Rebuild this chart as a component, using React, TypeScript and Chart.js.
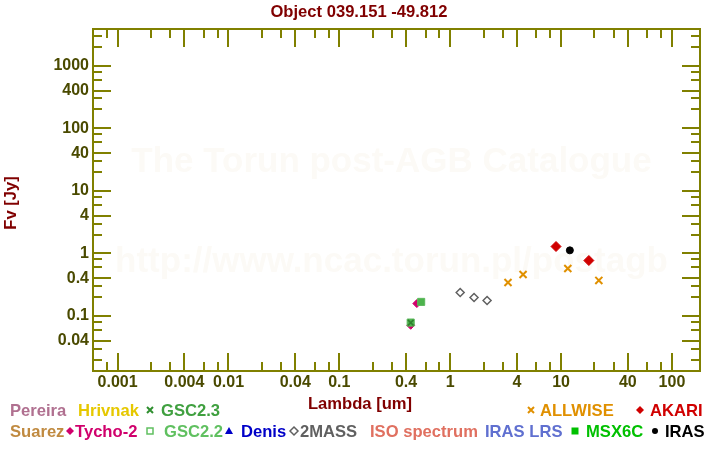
import React, { useEffect, useRef } from "react";
import { Chart, registerables } from "chart.js";

Chart.register(...registerables);

// ---------- data ----------
const titleText = "Object 039.151 -49.812";
const xTitle = "Lambda [um]";
const yTitle = "Fv [Jy]";
const watermark1 = "The Torun post-AGB Catalogue";
const watermark2 = "http://www.ncac.torun.pl/postagb";

const xTickLabels = ["0.001", "0.004", "0.01", "0.04", "0.1", "0.4", "1", "4", "10", "40", "100"];
const yTickLabels = ["0.04", "0.1", "0.4", "1", "4", "10", "40", "100", "400", "1000"];

const akariLambda = [9.0, 17.8];
const akariFlux = [1.29, 0.77];
const irasLambda = [12.0];
const irasFlux = [1.12];
const allwiseLambda = [3.32, 4.54, 11.5, 21.9];
const allwiseFlux = [0.343, 0.461, 0.575, 0.37];
const twomassLambda = [1.23, 1.64, 2.15];
const twomassFlux = [0.237, 0.197, 0.177];
const tychoLambda = [0.44, 0.5];
const tychoFlux = [0.071, 0.158];
const gsc22Lambda = [0.44, 0.547];
const gsc22Flux = [0.0785, 0.168];
const gsc23Lambda = [0.44];
const gsc23Flux = [0.078];

const legendRow1 = ["Pereira", "Hrivnak", "GSC2.3", "ALLWISE", "AKARI"];
const legendRow2 = ["Suarez", "Tycho-2", "GSC2.2", "Denis", "2MASS", "ISO spectrum", "IRAS LRS", "MSX6C", "IRAS"];

// ---------- layout / style ----------
const X_MIN = 0.000612;
const X_MAX = 179;
const Y_MIN = 0.0132;
const Y_MAX = 3866;
const OLIVE = "#808000";
const TICK_COLOR = "#4a4a00";
const DARKRED = "#800000";
const FONT = "Arial, 'Liberation Sans', sans-serif";
const TEXT_SIZE = 16.6;

type LegendStyle = { color: string; tx: number; marker?: string; mx?: number; mcolor?: string };
const legendStyle1: LegendStyle[] = [
  { color: "#b07090", tx: 10 },
  { color: "#e6c800", tx: 78 },
  { color: "#40a040", tx: 161, marker: "cross", mx: 150, mcolor: "#2f8f2f" },
  { color: "#e09000", tx: 540, marker: "cross", mx: 531 },
  { color: "#d00000", tx: 650, marker: "diamond", mx: 640 },
];
const legendStyle2: LegendStyle[] = [
  { color: "#c08a40", tx: 10 },
  { color: "#d0006c", tx: 75, marker: "diamond", mx: 70 },
  { color: "#60c060", tx: 164, marker: "opensquare", mx: 150 },
  { color: "#0000c8", tx: 241, marker: "triangle", mx: 229 },
  { color: "#606060", tx: 300, marker: "opendiamond", mx: 294 },
  { color: "#e07060", tx: 370 },
  { color: "#6070d0", tx: 485 },
  { color: "#00c000", tx: 586, marker: "square", mx: 575 },
  { color: "#000000", tx: 665, marker: "circle", mx: 655 },
];

function pts(xs: number[], ys: number[]) {
  return xs.map((x, i) => ({ x, y: ys[i] }));
}

function buildTicks(labels: string[], min: number, max: number) {
  const majors = labels.map((s) => parseFloat(s));
  const all: { value: number; major: boolean }[] = [];
  const lo = Math.floor(Math.log10(min));
  const hi = Math.ceil(Math.log10(max));
  for (let k = lo; k <= hi; k++) {
    for (const m of [1, 2, 3, 4, 6, 8]) {
      const v = parseFloat((m * Math.pow(10, k)).toPrecision(2));
      if (v < min || v > max) continue;
      all.push({ value: v, major: m === 1 || m === 4 });
    }
  }
  return { majors, all };
}

const xTicks = buildTicks(xTickLabels, X_MIN, X_MAX);
const yTicks = buildTicks(yTickLabels, Y_MIN, Y_MAX);

function drawMarker(ctx: CanvasRenderingContext2D, kind: string, x: number, y: number, color: string) {
  ctx.save();
  ctx.fillStyle = color;
  ctx.strokeStyle = color;
  ctx.lineWidth = 1.5;
  ctx.beginPath();
  if (kind === "cross") {
    ctx.lineWidth = 2;
    ctx.moveTo(x - 3, y - 3);
    ctx.lineTo(x + 3, y + 3);
    ctx.moveTo(x + 3, y - 3);
    ctx.lineTo(x - 3, y + 3);
    ctx.stroke();
  } else if (kind === "diamond") {
    ctx.moveTo(x, y - 4);
    ctx.lineTo(x + 4, y);
    ctx.lineTo(x, y + 4);
    ctx.lineTo(x - 4, y);
    ctx.closePath();
    ctx.fill();
  } else if (kind === "opendiamond") {
    ctx.moveTo(x, y - 4);
    ctx.lineTo(x + 4, y);
    ctx.lineTo(x, y + 4);
    ctx.lineTo(x - 4, y);
    ctx.closePath();
    ctx.stroke();
  } else if (kind === "opensquare") {
    ctx.rect(x - 3, y - 3, 6, 6);
    ctx.stroke();
  } else if (kind === "square") {
    ctx.rect(x - 3.5, y - 3.5, 7, 7);
    ctx.fill();
  } else if (kind === "triangle") {
    ctx.moveTo(x, y - 4);
    ctx.lineTo(x + 4, y + 3);
    ctx.lineTo(x - 4, y + 3);
    ctx.closePath();
    ctx.fill();
  } else if (kind === "circle") {
    ctx.arc(x, y, 3, 0, Math.PI * 2);
    ctx.fill();
  }
  ctx.restore();
}

const decorPlugin = {
  id: "decor",
  beforeDatasetsDraw(chart: any) {
    const { ctx, chartArea: a } = chart;
    ctx.save();
    ctx.fillStyle = "rgb(252,250,246)";
    ctx.font = `bold 35px ${FONT}`;
    ctx.textAlign = "center";
    ctx.textBaseline = "middle";
    const cx = (a.left + a.right) / 2 - 5;
    ctx.fillText(watermark1, cx, 162);
    ctx.fillText(watermark2, cx, 262);
    ctx.restore();
  },
  afterDraw(chart: any) {
    const { ctx, chartArea: a, scales } = chart;
    ctx.save();
    // frame
    ctx.strokeStyle = OLIVE;
    ctx.lineWidth = 2;
    ctx.strokeRect(a.left, a.top, a.right - a.left, a.bottom - a.top);
    ctx.beginPath();
    for (const t of xTicks.all) {
      const px = Math.round(scales.x.getPixelForValue(t.value));
      const L = t.major ? 18 : 9;
      ctx.moveTo(px, a.bottom);
      ctx.lineTo(px, a.bottom - L);
      ctx.moveTo(px, a.top);
      ctx.lineTo(px, a.top + L);
    }
    for (const t of yTicks.all) {
      const py = Math.round(scales.y.getPixelForValue(t.value));
      const L = t.major ? 18 : 9;
      ctx.moveTo(a.left, py);
      ctx.lineTo(a.left + L, py);
      ctx.moveTo(a.right, py);
      ctx.lineTo(a.right - L, py);
    }
    ctx.stroke();

    // titles
    ctx.fillStyle = DARKRED;
    ctx.font = `bold ${TEXT_SIZE}px ${FONT}`;
    ctx.textAlign = "center";
    ctx.textBaseline = "middle";
    ctx.fillText(titleText, 359, 12);
    ctx.fillText(xTitle, 360, 404);
    ctx.save();
    ctx.translate(11, 203);
    ctx.rotate(-Math.PI / 2);
    ctx.fillText(yTitle, 0, 0);
    ctx.restore();

    // legend
    ctx.textAlign = "left";
    const rows: [string[], LegendStyle[], number][] = [
      [legendRow1, legendStyle1, 410],
      [legendRow2, legendStyle2, 431],
    ];
    for (const [names, styles, y] of rows) {
      names.forEach((name, i) => {
        const s = styles[i];
        if (s.marker && s.mx !== undefined) drawMarker(ctx, s.marker, s.mx, y, s.mcolor || s.color);
        ctx.fillStyle = s.color;
        ctx.fillText(name, s.tx, y + 1);
      });
    }
    ctx.restore();
  },
};

export default function App() {
  const ref = useRef<HTMLCanvasElement | null>(null);
  useEffect(() => {
    document.body.style.margin = "0";
    const canvas = ref.current!;
    const tickFont = { family: FONT, size: 16, weight: "bold" as const };
    const chart = new Chart(canvas, {
      type: "scatter",
      data: {
        datasets: [
          {
            label: "GSC2.3",
            data: pts(gsc23Lambda, gsc23Flux),
            pointStyle: "crossRot",
            pointRadius: 4,
            borderColor: "#2f7f2f",
            backgroundColor: "#2f7f2f",
            pointBorderWidth: 1.5,
          },
          {
            label: "GSC2.2",
            data: pts(gsc22Lambda, gsc22Flux),
            pointStyle: "rect",
            pointRadius: 5,
            borderColor: "#5cb85c",
            backgroundColor: "#4cb34c",
            pointBorderWidth: 1,
          },
          {
            label: "Tycho-2",
            data: pts(tychoLambda, tychoFlux),
            pointStyle: "rectRot",
            pointRadius: 4,
            borderColor: "#d0006c",
            backgroundColor: "#d0006c",
            pointBorderWidth: 1,
          },
          {
            label: "2MASS",
            data: pts(twomassLambda, twomassFlux),
            pointStyle: "rectRot",
            pointRadius: 4,
            borderColor: "#606060",
            backgroundColor: "rgba(0,0,0,0)",
            pointBorderWidth: 1.5,
          },
          {
            label: "ALLWISE",
            data: pts(allwiseLambda, allwiseFlux),
            pointStyle: "crossRot",
            pointRadius: 5,
            borderColor: "#e09000",
            backgroundColor: "#e09000",
            pointBorderWidth: 2,
          },
          {
            label: "AKARI",
            data: pts(akariLambda, akariFlux),
            pointStyle: "rectRot",
            pointRadius: 5,
            borderColor: "#d00000",
            backgroundColor: "#d00000",
            pointBorderWidth: 1,
          },
          {
            label: "IRAS",
            data: pts(irasLambda, irasFlux),
            pointStyle: "circle",
            pointRadius: 3.5,
            borderColor: "#000000",
            backgroundColor: "#000000",
            pointBorderWidth: 1,
          },
        ],
      },
      options: {
        animation: false,
        responsive: false,
        maintainAspectRatio: false,
        layout: { padding: { top: 29, right: 20, left: 0, bottom: 0 } },
        plugins: {
          legend: { display: false },
          title: { display: false },
          tooltip: { enabled: false },
        },
        scales: {
          x: {
            type: "logarithmic",
            min: X_MIN,
            max: X_MAX,
            grid: { display: false, drawTicks: false },
            border: { display: false },
            afterBuildTicks: (s: any) => {
              s.ticks = xTicks.all.map((t) => ({ value: t.value }));
            },
            afterFit: (s: any) => {
              s.height = 79;
            },
            ticks: {
              autoSkip: false,
              maxRotation: 0,
              minRotation: 0,
              padding: 2,
              color: TICK_COLOR,
              font: tickFont,
              callback: (v: any) => {
                const i = xTicks.majors.findIndex((m) => Math.abs(m - v) / m < 1e-6);
                return i >= 0 ? xTickLabels[i] : "";
              },
            },
          },
          y: {
            type: "logarithmic",
            min: Y_MIN,
            max: Y_MAX,
            grid: { display: false, drawTicks: false },
            border: { display: false },
            afterBuildTicks: (s: any) => {
              s.ticks = yTicks.all.map((t) => ({ value: t.value }));
            },
            afterFit: (s: any) => {
              s.width = 93;
            },
            ticks: {
              autoSkip: false,
              padding: 4,
              color: TICK_COLOR,
              font: tickFont,
              callback: (v: any) => {
                const i = yTicks.majors.findIndex((m) => Math.abs(m - v) / m < 1e-6);
                return i >= 0 ? yTickLabels[i] : "";
              },
            },
          },
        },
      },
      plugins: [decorPlugin],
    });
    return () => chart.destroy();
  }, []);
  return (
    <div style={{ position: "fixed", left: 0, top: 0, width: 720, height: 450, background: "#fff" }}>
      <canvas ref={ref} width={720} height={450} style={{ display: "block", width: 720, height: 450 }} />
    </div>
  );
}
